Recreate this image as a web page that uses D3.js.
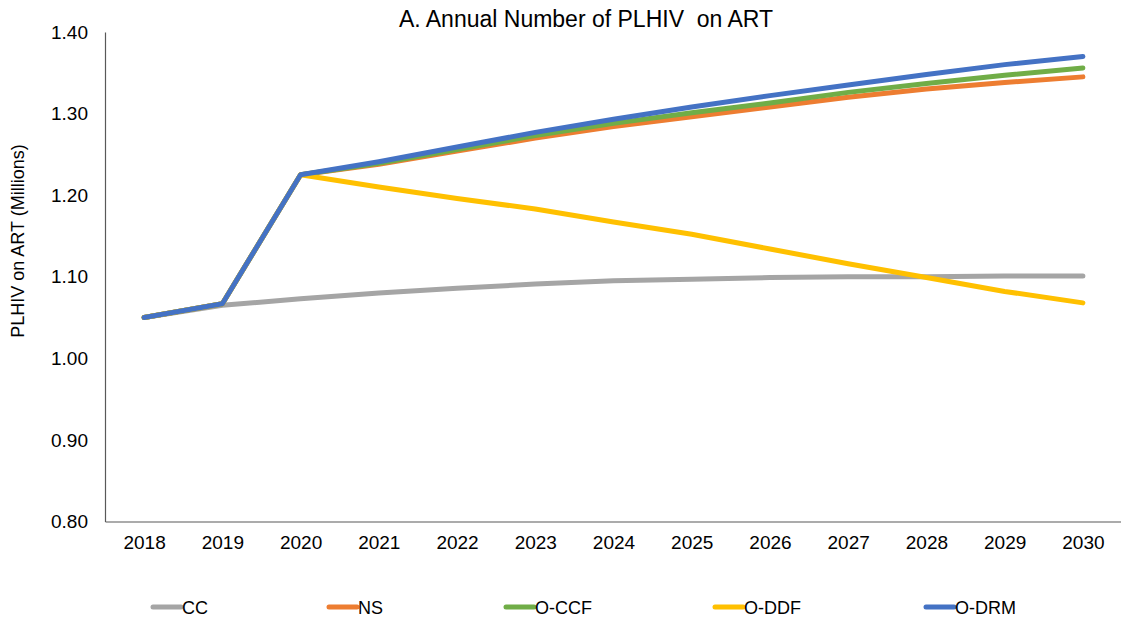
<!DOCTYPE html>
<html><head><meta charset="utf-8">
<script src="https://cdn.jsdelivr.net/npm/d3@7"></script>
<style>body{margin:0;background:#fff;} svg text{font-family:"Liberation Sans",Arial,sans-serif;fill:#000;}</style>
</head><body>
<svg id="c" width="1121" height="625"></svg>
<script>
const years = ["2018","2019","2020","2021","2022","2023","2024","2025","2026","2027","2028","2029","2030"];
const seriesNames = ["CC","NS","O-CCF","O-DDF","O-DRM"];
const seriesColors = ["#A5A5A5","#ED7D31","#70AD47","#FFC000","#4472C4"];
const cc    = [1.050,1.065,1.073,1.080,1.086,1.091,1.095,1.097,1.099,1.100,1.100,1.101,1.101];
const ns    = [1.050,1.067,1.225,1.238,1.254,1.270,1.284,1.296,1.308,1.320,1.330,1.338,1.345];
const occf  = [1.050,1.067,1.225,1.239,1.256,1.273,1.288,1.301,1.313,1.326,1.337,1.347,1.356];
const oddf  = [1.050,1.067,1.225,1.210,1.196,1.183,1.167,1.152,1.134,1.116,1.099,1.082,1.068];
const odrm  = [1.050,1.067,1.225,1.241,1.259,1.277,1.293,1.308,1.322,1.335,1.348,1.360,1.370];
const seriesValues = [cc, ns, occf, oddf, odrm];
const yTicks = [0.80,0.90,1.00,1.10,1.20,1.30,1.40];

const svg = d3.select("#c");
const x = d3.scalePoint().domain(years).range([105,1122]).padding(0.5);
const y = d3.scaleLinear().domain([0.8,1.4]).range([521.5,32]);

// title
svg.append("text").attr("x",586).attr("y",26.5).attr("text-anchor","middle")
  .attr("font-size",23).style("white-space","pre").text("A. Annual Number of PLHIV  on ART");

// y axis label
svg.append("text").attr("transform","translate(24,241) rotate(-90)").attr("text-anchor","middle")
  .attr("font-size",18).text("PLHIV on ART (Millions)");

// y axis
const ya = svg.append("g").attr("transform","translate(105,0)")
  .call(d3.axisLeft(y).tickValues(yTicks).tickFormat(d3.format(".2f")).tickSize(0).tickPadding(17));
ya.select(".domain").attr("stroke","#595959").attr("stroke-width",1.2);
ya.selectAll("text").attr("font-size",19).attr("font-family","Liberation Sans, Arial, sans-serif");

// x axis
const xa = svg.append("g").attr("transform","translate(0,521.5)")
  .call(d3.axisBottom(x).tickSize(0).tickPadding(14));
xa.select(".domain").attr("stroke","#595959").attr("stroke-width",1.2);
xa.selectAll("text").attr("font-size",19).attr("font-family","Liberation Sans, Arial, sans-serif");

// lines
const line = d3.line().x((d,i)=>x(years[i])).y(d=>y(d));
seriesValues.forEach((vals,k)=>{
  svg.append("path").datum(vals).attr("d",line).attr("fill","none")
    .attr("stroke",seriesColors[k]).attr("stroke-width",5)
    .attr("stroke-linecap","round").attr("stroke-linejoin","round");
});

// legend
const legX = [153,329,506,715,926];
seriesNames.forEach((n,k)=>{
  const g = svg.append("g").attr("transform",`translate(${legX[k]},607)`);
  g.append("line").attr("x1",0).attr("x2",28).attr("y1",0).attr("y2",0)
    .attr("stroke",seriesColors[k]).attr("stroke-width",5).attr("stroke-linecap","round");
  g.append("text").attr("x",29).attr("y",6.5).attr("font-size",18).text(n);
});
</script>
</body></html>
